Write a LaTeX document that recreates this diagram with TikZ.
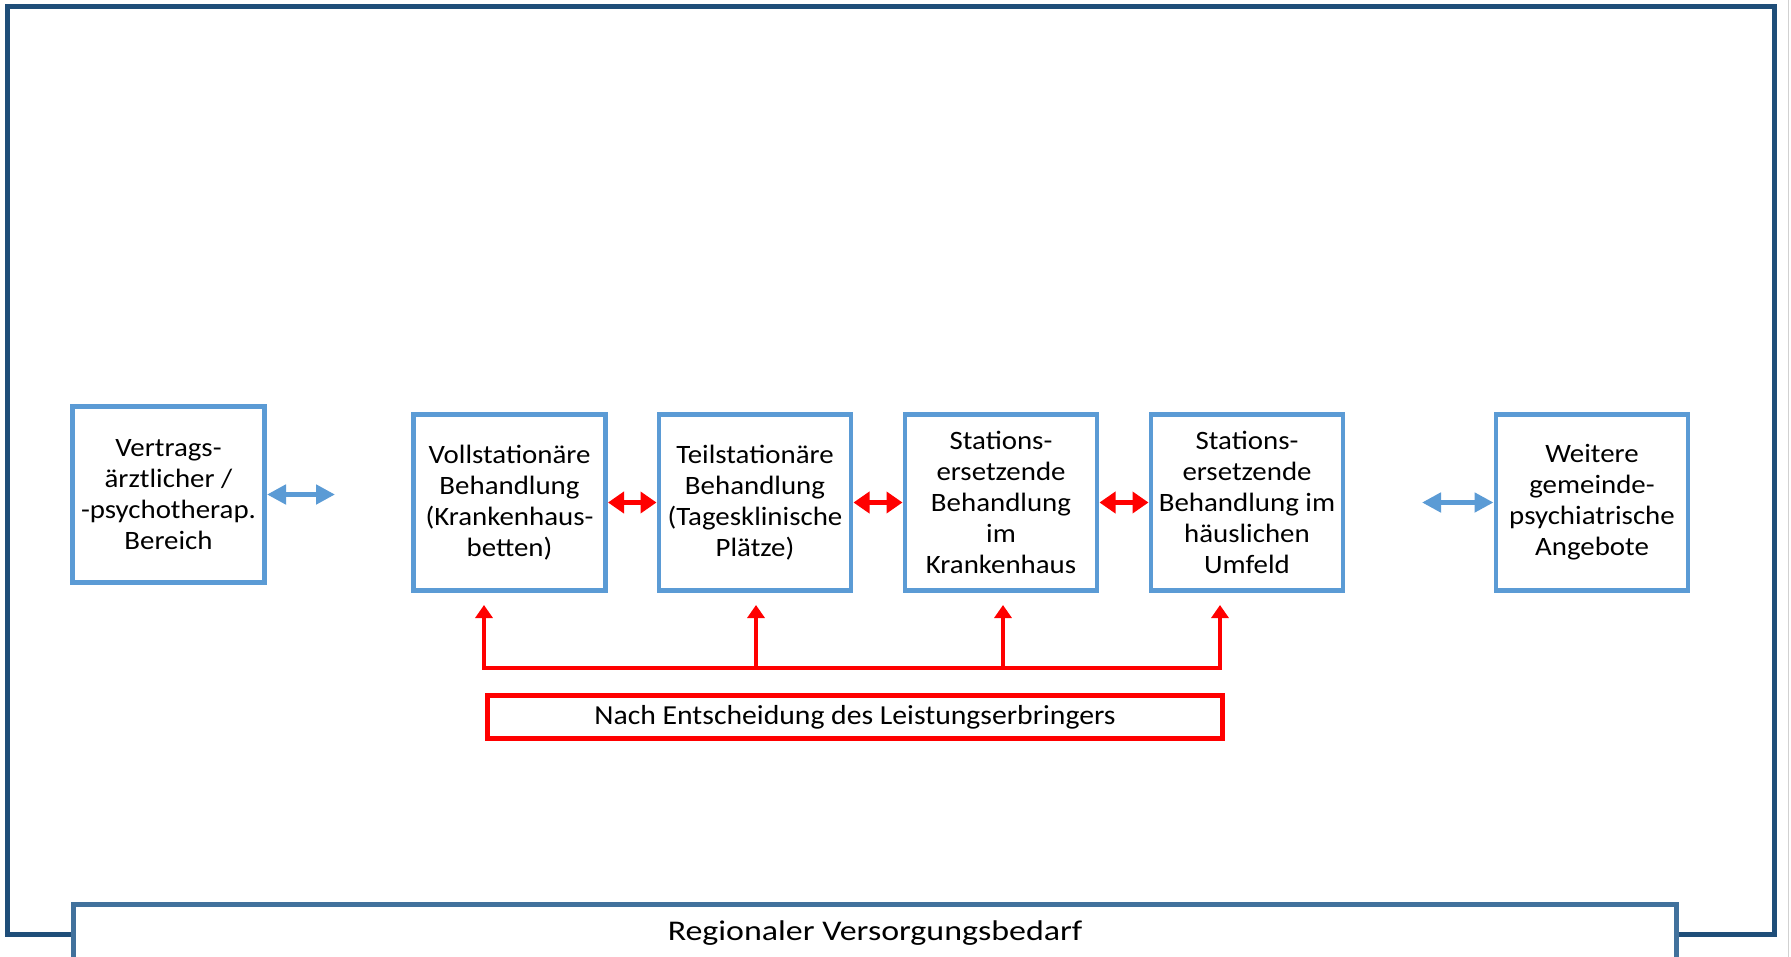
\documentclass[tikz,border=0pt]{standalone}
\usepackage{fontspec}
\setmainfont{Carlito}
\newfontfamily\boxfont{Carlito}[FakeStretch=1.09]
\newfontfamily\redfont{Carlito}[FakeStretch=1.08]
\newfontfamily\botfont{Carlito}[FakeStretch=1.19]
\usetikzlibrary{arrows.meta,calc}
\definecolor{frameblue}{RGB}{31,78,121}
\definecolor{boxblue}{RGB}{91,155,213}
\definecolor{botblue}{RGB}{65,113,156}
\definecolor{pptred}{RGB}{255,0,0}
\begin{document}
\begin{tikzpicture}[x=1pt,y=-1pt,
  bluebox/.style={draw=boxblue, line width=4.5pt, fill=white, minimum width=192pt, minimum height=176pt,
    inner sep=0pt, outer sep=0pt, align=center, font=\boxfont\fontsize{26.5}{31}\selectfont},
  bluearrow/.style={boxblue, line width=5pt, {Triangle[length=19pt,width=19pt]}-{Triangle[length=19pt,width=19pt]}},
  redarrow/.style={pptred, line width=5pt, {Triangle[length=16pt,width=21pt]}-{Triangle[length=16pt,width=21pt]}},
  upline/.style={pptred, line width=3.5pt, line cap=rect},
  uparrow/.style={pptred, line width=3.5pt, -{Triangle[length=13pt,width=17pt]}},
  redbox/.style={draw=pptred, line width=5pt, minimum width=735pt, minimum height=43pt, inner sep=0pt, outer sep=0pt,
    font=\redfont\fontsize{27.5}{33}\selectfont},
  regbox/.style={draw=botblue, line width=5pt, fill=white, minimum width=1603pt, minimum height=57pt, inner sep=0pt, outer sep=0pt,
    font=\botfont\fontsize{28.5}{34}\selectfont},
]
\useasboundingbox (0,0) rectangle (1791,957);
\fill[white] (0,0) rectangle (1791,957);
% outer frame
\draw[frameblue, line width=5pt] (7.5,6.5) rectangle (1774.5,934.5);
\draw[black!18, line width=1.5pt] (1788.5,0) -- (1788.5,957);

% boxes
\node[bluebox] (b1) at (168.5,494.5) {Vertrags-\\ärztlicher /\\-psychotherap.\\Bereich};
\node[bluebox] (b2) at (509.5,502.5) {Vollstationäre\\Behandlung\\(Krankenhaus-\\betten)};
\node[bluebox] (b3) at (755,502.5) {Teilstationäre\\Behandlung\\(Tagesklinische\\Plätze)};
\node[bluebox] (b4) at (1001,502.5) {Stations-\\ersetzende\\Behandlung\\im\\Krankenhaus};
\node[bluebox] (b5) at (1247,502.5) {Stations-\\ersetzende\\Behandlung im\\häuslichen\\Umfeld};
\node[bluebox] (b6) at (1592,502.5) {Weitere\\gemeinde-\\psychiatrische\\Angebote};

% horizontal arrows
\coordinate (ba1) at (335,494.5);
\coordinate (ba2) at (1422,502.5);
\draw[bluearrow, shorten <=2.5pt] (b1.east) -- (ba1);
\draw[bluearrow, shorten >=2.5pt] (ba2) -- (b6.west);
\draw[redarrow, shorten <=2.5pt, shorten >=2.5pt] (b2.east) -- (b3.west);
\draw[redarrow, shorten <=2.5pt, shorten >=2.5pt] (b3.east) -- (b4.west);
\draw[redarrow, shorten <=2.5pt, shorten >=2.5pt] (b4.east) -- (b5.west);

% decision arrows
\coordinate (j1) at (484,668);
\coordinate (j2) at (756,668);
\coordinate (j3) at (1003,668);
\coordinate (j4) at (1220,668);
\draw[upline] (j1) -- (j4);
\draw[uparrow, shorten >=14.5pt] (j1) -- (j1 |- b2.south);
\draw[uparrow, shorten >=14.5pt] (j2) -- (j2 |- b3.south);
\draw[uparrow, shorten >=14.5pt] (j3) -- (j3 |- b4.south);
\draw[uparrow, shorten >=14.5pt] (j4) -- (j4 |- b5.south);

\node[redbox] (rb) at (855,717) {Nach Entscheidung des Leistungserbringers};

% bottom box
\node[regbox] (reg) at (875,933) {Regionaler Versorgungsbedarf};
\end{tikzpicture}
\end{document}
